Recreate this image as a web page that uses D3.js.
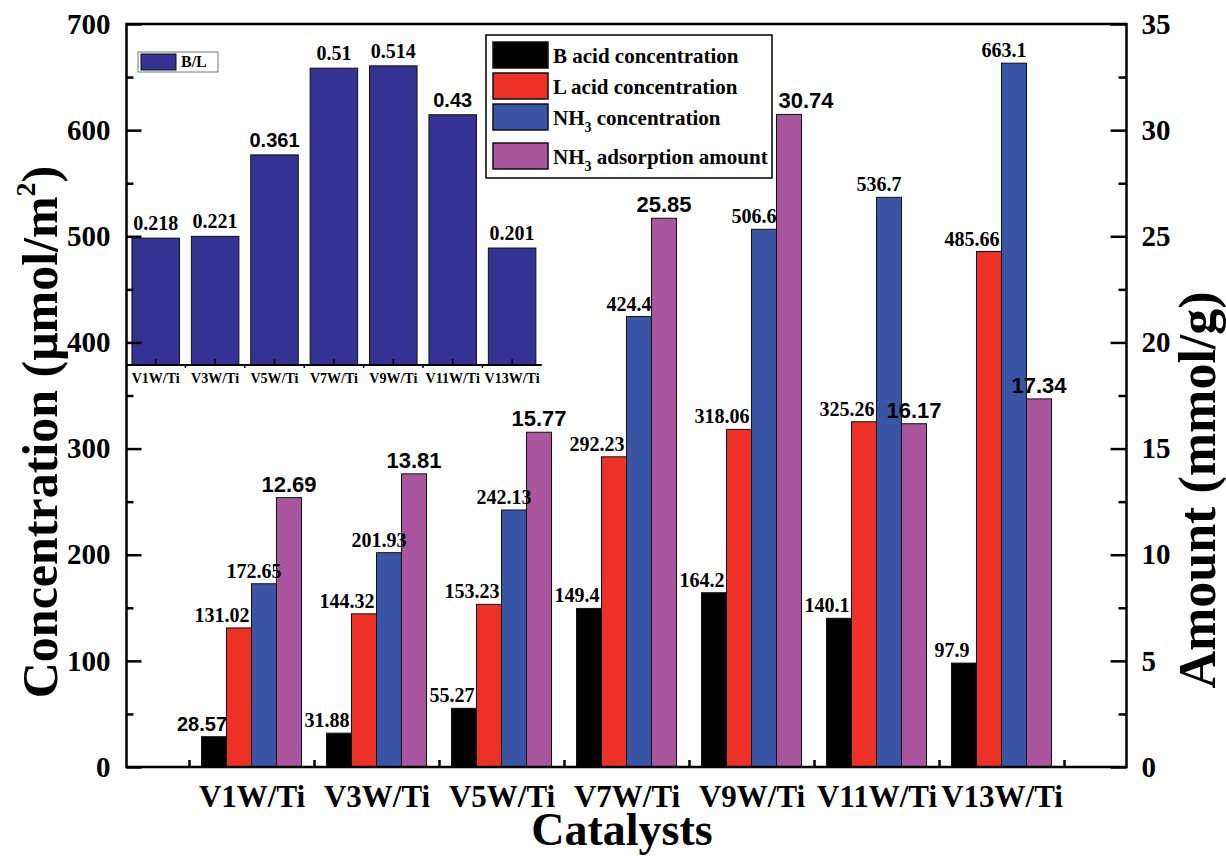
<!DOCTYPE html>
<html>
<head>
<meta charset="utf-8">
<script src="https://cdn.jsdelivr.net/npm/d3@7"></script>
<style>
  body { margin: 0; background: #fff; }
  text { font-family: "Liberation Serif", "Times New Roman", serif; font-weight: bold; fill: #000; }
  .sans { font-family: "Liberation Sans", Arial, sans-serif; }
</style>
</head>
<body>
<svg id="chart" width="1226" height="856"></svg>
<script>
// Catalyst series and measured acidity values
const catalysts = ["V1W/Ti", "V3W/Ti", "V5W/Ti", "V7W/Ti", "V9W/Ti", "V11W/Ti", "V13W/Ti"];
const bAcid   = [28.57, 31.88, 55.27, 149.4, 164.2, 140.1, 97.9];        // µmol/m²
const lAcid   = [131.02, 144.32, 153.23, 292.23, 318.06, 325.26, 485.66]; // µmol/m²
const nh3Conc = [172.65, 201.93, 242.13, 424.4, 506.6, 536.7, 663.1];     // µmol/m²
const nh3Ads  = [12.69, 13.81, 15.77, 25.85, 30.74, 16.17, 17.34];        // mmol/g
const blRatio = [0.218, 0.221, 0.361, 0.51, 0.514, 0.43, 0.201];

const leftTicks  = [0, 100, 200, 300, 400, 500, 600, 700];
const rightTicks = [0, 5, 10, 15, 20, 25, 30, 35];

// value labels set in a sans face (index lists per series)
const sansLabels = { B: [0], L: [], N: [], A: [0, 1, 2, 3, 4, 5, 6], R: [2, 5] };

const svg = d3.select("#chart");
const plot = { left: 126.5, right: 1126.5, top: 24, bottom: 767 };

const x  = d3.scaleLinear().domain([0, 8]).range([plot.left, plot.right]);
const yL = d3.scaleLinear().domain([0, 700]).range([plot.bottom, plot.top]);
const yR = d3.scaleLinear().domain([0, 35]).range([plot.bottom, plot.top]);

const series = [
  { key: "B", values: bAcid,   color: "#000000", scale: yL, dx: -12 },
  { key: "L", values: lAcid,   color: "#ee3127", scale: yL, dx: -17 },
  { key: "N", values: nh3Conc, color: "#3a55a6", scale: yL, dx: -10 },
  { key: "A", values: nh3Ads,  color: "#a9569f", scale: yR, dx: 0 }
];
const slot = d3.scaleBand().domain(series.map(s => s.key)).range([-0.4, 0.4]);

// ---- main bars
const barsG = svg.append("g");
series.forEach(s => {
  barsG.selectAll(null).data(s.values).join("rect")
    .attr("x", (d, i) => x(i + 1 + slot(s.key)))
    .attr("width", x(slot.bandwidth()) - x(0))
    .attr("y", d => s.scale(d))
    .attr("height", d => s.scale(0) - s.scale(d))
    .attr("fill", s.color)
    .attr("stroke", "#111")
    .attr("stroke-width", 1);
});

// ---- inset: B/L ratio
const inset = { left: 126, right: 541.8, base: 365 };
const xi = d3.scaleBand().domain(catalysts).range([inset.left, inset.right])
  .paddingInner(0.2).paddingOuter(0.1);
const yi = d3.scaleLinear().domain([0, 0.6]).range([inset.base, inset.base - 0.6 * 582]);

const insetG = svg.append("g");
insetG.selectAll("rect").data(blRatio).join("rect")
  .attr("x", (d, i) => xi(catalysts[i]))
  .attr("width", xi.bandwidth())
  .attr("y", d => yi(d))
  .attr("height", d => yi(0) - yi(d))
  .attr("fill", "#343292")
  .attr("stroke", "#111")
  .attr("stroke-width", 1);
insetG.selectAll("text.v").data(blRatio).join("text")
  .attr("class", (d, i) => sansLabels.R.includes(i) ? "sans" : null)
  .attr("x", (d, i) => xi(catalysts[i]) + xi.bandwidth() / 2)
  .attr("y", d => yi(d) - 8)
  .attr("text-anchor", "middle")
  .attr("font-size", 20)
  .text(d => d);

// inset category axis
insetG.append("line")
  .attr("x1", inset.left).attr("x2", inset.right)
  .attr("y1", inset.base).attr("y2", inset.base)
  .attr("stroke", "#000").attr("stroke-width", 2);
insetG.selectAll("line.mj").data(catalysts).join("line")
  .attr("x1", d => xi(d) + xi.bandwidth() / 2).attr("x2", d => xi(d) + xi.bandwidth() / 2)
  .attr("y1", inset.base).attr("y2", inset.base - 6)
  .attr("stroke", "#000").attr("stroke-width", 1.5);
insetG.selectAll("line.mn").data(catalysts.slice(1)).join("line")
  .attr("x1", d => xi(d) - xi.step() * 0.1).attr("x2", d => xi(d) - xi.step() * 0.1)
  .attr("y1", inset.base).attr("y2", inset.base + 3)
  .attr("stroke", "#000").attr("stroke-width", 1.5);
insetG.selectAll("text.c").data(catalysts).join("text")
  .attr("x", d => xi(d) + xi.bandwidth() / 2)
  .attr("y", inset.base + 18)
  .attr("text-anchor", "middle")
  .attr("font-size", 14)
  .text(d => d);

// inset legend
insetG.append("rect").attr("x", 138).attr("y", 52).attr("width", 80).attr("height", 20)
  .attr("fill", "#fff").attr("stroke", "#777").attr("stroke-width", 1);
insetG.append("rect").attr("x", 141).attr("y", 54).attr("width", 35).attr("height", 16)
  .attr("fill", "#343292").attr("stroke", "#111").attr("stroke-width", 1);
insetG.append("text").attr("x", 181).attr("y", 67).attr("font-size", 16).text("B/L");

// ---- axes
const axG = svg.append("g");
const leftAxis = axG.append("g").attr("transform", `translate(${plot.left},0)`)
  .call(d3.axisLeft(yL).tickValues(leftTicks).tickSize(-15).tickSizeOuter(0).tickPadding(16));
axG.append("g").attr("transform", `translate(${plot.left},0)`)
  .call(d3.axisLeft(yL).tickValues(d3.range(50, 700, 100)).tickSize(-7).tickSizeOuter(0).tickFormat(""));
const rightAxis = axG.append("g").attr("transform", `translate(${plot.right},0)`)
  .call(d3.axisRight(yR).tickValues(rightTicks).tickSize(-16).tickSizeOuter(0).tickPadding(15));
axG.append("g").attr("transform", `translate(${plot.right},0)`)
  .call(d3.axisRight(yR).tickValues(d3.range(2.5, 35, 5)).tickSize(-8).tickSizeOuter(0).tickFormat(""));
axG.append("g").attr("transform", `translate(0,${plot.bottom})`)
  .call(d3.axisBottom(x).tickValues(d3.range(0.5, 8, 1)).tickSize(-7).tickSizeOuter(0).tickFormat(""));
const catAxis = axG.append("g").attr("transform", `translate(0,${plot.bottom})`)
  .call(d3.axisBottom(x).tickValues(d3.range(1, 8)).tickSize(0).tickPadding(18)
    .tickFormat(d => catalysts[d - 1]));
catAxis.select(".domain").remove();

axG.selectAll(".tick line").attr("stroke", "#000").attr("stroke-width", 2.5);
axG.selectAll(".domain").attr("stroke", "none");
leftAxis.selectAll("text").attr("font-size", 29).attr("font-family", "Liberation Serif").attr("font-weight", "bold");
rightAxis.selectAll("text").attr("font-size", 29).attr("font-family", "Liberation Serif").attr("font-weight", "bold");
catAxis.selectAll("text").attr("font-size", 31).attr("font-family", "Liberation Serif").attr("font-weight", "bold");

// frame
svg.append("rect")
  .attr("x", plot.left).attr("y", plot.top)
  .attr("width", plot.right - plot.left).attr("height", plot.bottom - plot.top)
  .attr("fill", "none").attr("stroke", "#000").attr("stroke-width", 2.5);

// ---- legend
const legG = svg.append("g");
legG.append("rect").attr("x", 486).attr("y", 35).attr("width", 286).attr("height", 143)
  .attr("fill", "#fff").attr("stroke", "#000").attr("stroke-width", 1.5);
const rowY = i => 42 + i * 31 + (i === 3 ? 8 : 0);
series.forEach((s, i) => {
  legG.append("rect").attr("x", 493).attr("y", rowY(i)).attr("width", 55).attr("height", 26)
    .attr("fill", s.color).attr("stroke", "#111").attr("stroke-width", 1.5);
  const t = legG.append("text").attr("x", 553).attr("y", rowY(i) + 21).attr("font-size", 21);
  if (i < 2) {
    t.text(i === 0 ? "B acid concentration" : "L acid concentration");
  } else {
    t.append("tspan").text("NH");
    t.append("tspan").attr("font-size", 14).attr("dy", 7).text("3");
    t.append("tspan").attr("dy", -7).text(i === 2 ? " concentration" : " adsorption amount");
  }
});

// ---- value labels on main bars (drawn last so the legend never hides them;
// the tallest adsorption label is pushed right to clear the legend box)
const labG = svg.append("g");
series.forEach(s => {
  labG.selectAll(null).data(s.values).join("text")
    .attr("class", (d, i) => sansLabels[s.key].includes(i) ? "sans" : null)
    .attr("x", (d, i) => {
      const cx = x(i + 1 + slot(s.key) + slot.bandwidth() / 2) + s.dx;
      return (s.key === "A" && d === d3.max(s.values)) ? cx + 17 : cx;
    })
    .attr("y", d => s.scale(d) - 6)
    .attr("text-anchor", "middle")
    .attr("font-size", s.key === "A" ? 22 : 20)
    .text(d => d);
});

// ---- axis titles
const lt = svg.append("text")
  .attr("transform", "translate(57,432) rotate(-90)")
  .attr("text-anchor", "middle").attr("font-size", 50);
lt.append("tspan").text("Concentration (μmol/m");
lt.append("tspan").attr("font-size", 28).attr("dy", -22).text("2");
lt.append("tspan").attr("dy", 22).text(")");

svg.append("text")
  .attr("transform", "translate(1215,490) rotate(-90)")
  .attr("text-anchor", "middle").attr("font-size", 52)
  .text("Amount (mmol/g)");

svg.append("text")
  .attr("x", 622).attr("y", 845)
  .attr("text-anchor", "middle").attr("font-size", 46)
  .text("Catalysts");
</script>
</body>
</html>
